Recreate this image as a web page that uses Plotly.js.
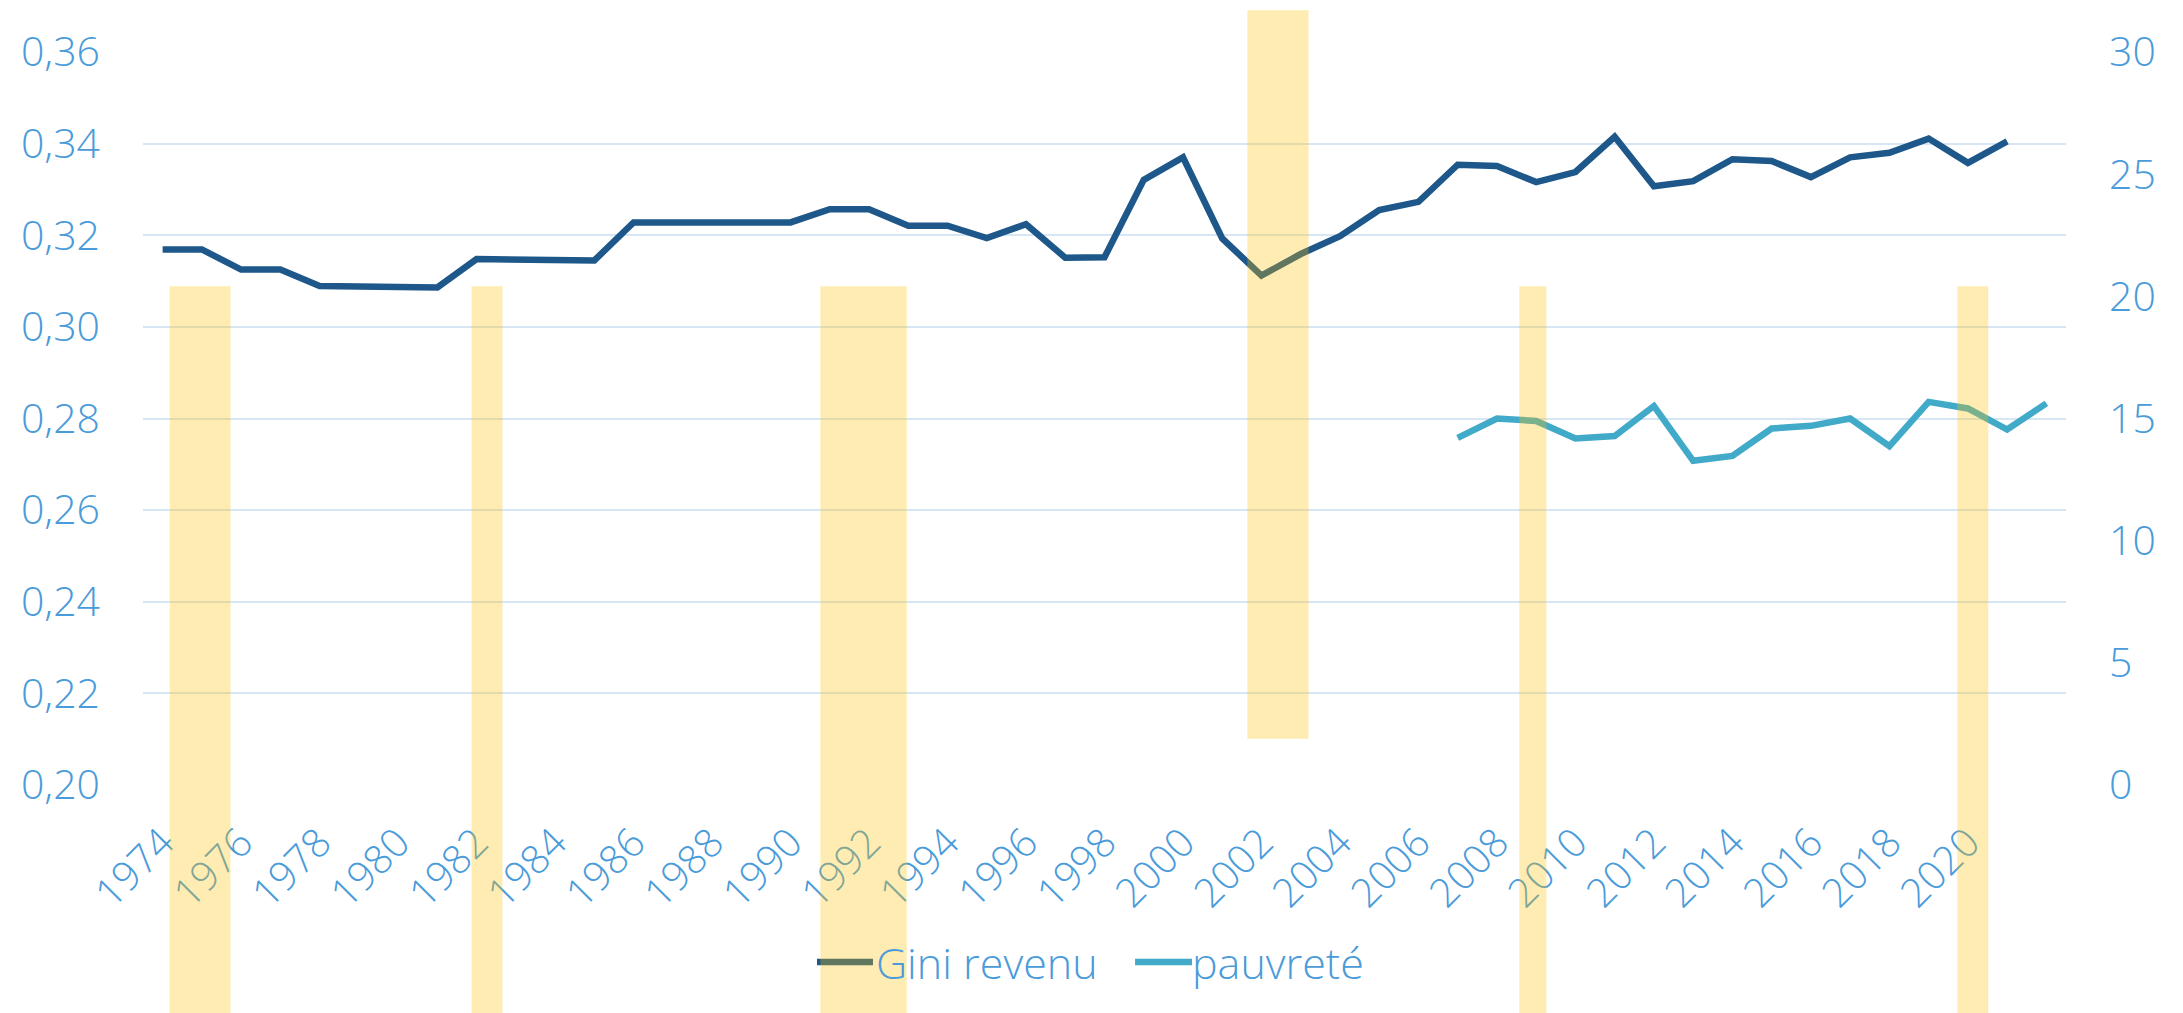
<!DOCTYPE html>
<html>
<head>
<meta charset="utf-8">
<script src="https://cdn.plot.ly/plotly-3.0.1.min.js"></script>
<style>
  html, body { margin: 0; padding: 0; background: #ffffff; }
  #chart { width: 2183px; height: 1013px; }
</style>
</head>
<body>
<div id="chart"></div>
<script>
// ---- Data ----
const giniYears = [1974,1975,1976,1977,1978,1979,1980,1981,1982,1983,1984,1985,1986,1987,1988,1989,1990,1991,1992,1993,1994,1995,1996,1997,1998,1999,2000,2001,2002,2003,2004,2005,2006,2007,2008,2009,2010,2011,2012,2013,2014,2015,2016,2017,2018,2019,2020,2021];
const giniValues = [0.3169,0.3169,0.3125,0.3125,0.3089,0.3089,0.3086,0.3086,0.3148,0.3148,0.3145,0.3145,0.3228,0.3228,0.3229,0.3228,0.3228,0.3257,0.3257,0.3221,0.3221,0.3194,0.3224,0.3151,0.3152,0.3321,0.3370,0.3193,0.3112,0.3159,0.3198,0.3255,0.3273,0.3354,0.3351,0.3316,0.3338,0.3415,0.3307,0.3318,0.3366,0.3362,0.3327,0.3370,0.3380,0.3411,0.3358,0.3405];

const povYears = [2007,2008,2009,2010,2011,2012,2013,2014,2015,2016,2017,2018,2019,2020,2021,2022];
const povValues = [14.21,15.00,14.90,14.18,14.28,15.51,13.27,13.47,14.59,14.70,15.00,13.87,15.68,15.41,14.55,15.62];

// Recession periods (shaded bands)
const recessionStart = [1974.18,1981.87,1990.76,2001.64,2008.57,2019.73];
const recessionEnd   = [1975.73,1982.66,1992.96,2003.20,2009.26,2020.52];

const tickYears  = [1974,1976,1978,1980,1982,1984,1986,1988,1990,1992,1994,1996,1998,2000,2002,2004,2006,2008,2010,2012,2014,2016,2018,2020];
const tickLabels = ["1974","1976","1978","1980","1982","1984","1986","1988","1990","1992","1994","1996","1998","2000","2002","2004","2006","2008","2010","2012","2014","2016","2018","2020"];

const seriesNames = ["Gini revenu", "pauvreté"];

// ---- Styling ----
const labelColor = '#4A9BD9';
const giniColor = '#1E5789';
const povColor = '#41AAC8';
const fontFamily = '"Open Sans", "Noto Sans", sans-serif';
// vertical extent of bands (paper coordinates)
const bandTop = [0.6805,0.6805,0.6805,1.0569,0.6805,0.6805];
const bandBottom = [-0.3109,-0.3109,-0.3109,0.0631,-0.3109,-0.3109];
// custom legend placement (paper coordinates)
const legendY = -0.2415;
const legendLineX = [[0.3505, 0.3796], [0.5159, 0.5455]];
const legendTextX = [0.3802, 0.5445];
const seriesColors = [giniColor, povColor];

const traces = [
  {
    x: giniYears, y: giniValues, name: seriesNames[0], type: 'scatter', mode: 'lines',
    line: { color: giniColor, width: 6.5, shape: 'linear' }, yaxis: 'y', hoverinfo: 'skip'
  },
  {
    x: povYears, y: povValues, name: seriesNames[1], type: 'scatter', mode: 'lines',
    line: { color: povColor, width: 6.5, shape: 'linear' }, yaxis: 'y2', hoverinfo: 'skip'
  }
];

const legendShapes = legendLineX.map((lx, i) => ({
  type: 'line', xref: 'paper', yref: 'paper',
  x0: lx[0], x1: lx[1], y0: legendY, y1: legendY,
  line: { color: seriesColors[i], width: 6.5 }, layer: 'above'
}));

const bandShapes = recessionStart.map((s, i) => ({
  type: 'rect', xref: 'x', yref: 'paper',
  x0: s, x1: recessionEnd[i], y0: bandBottom[i], y1: bandTop[i],
  fillcolor: '#FFC000', opacity: 0.3, line: { width: 0 }, layer: 'above'
}));

const legendAnnotations = seriesNames.map((n, i) => ({
  text: n, xref: 'paper', yref: 'paper', x: legendTextX[i], y: legendY,
  xanchor: 'left', yanchor: 'middle', showarrow: false,
  font: { family: fontFamily, size: 43, color: labelColor, weight: 300 }
}));

const layout = {
  width: 2183, height: 1013,
  margin: { l: 143, r: 117, t: 52, b: 228 },
  paper_bgcolor: '#ffffff', plot_bgcolor: '#ffffff',
  separators: ', ',
  showlegend: false,
  font: { family: fontFamily, color: labelColor },
  xaxis: {
    type: 'linear', range: [1973.5, 2022.5],
    tickmode: 'array', tickvals: tickYears, ticktext: tickLabels,
    tickangle: -45, showgrid: false, zeroline: false, showline: false, ticks: '',
    ticklabelstandoff: 25,
    tickfont: { family: fontFamily, size: 40, color: labelColor, weight: 300 }
  },
  yaxis: {
    range: [0.2, 0.36], tick0: 0.2, dtick: 0.02, tickformat: '.2f',
    showgrid: true, gridcolor: '#D6E6F5', gridwidth: 2,
    zeroline: false, showline: false, ticks: '', ticklabelstandoff: 42,
    tickfont: { family: fontFamily, size: 41, color: labelColor, weight: 300 }
  },
  yaxis2: {
    overlaying: 'y', side: 'right', range: [0, 30], tick0: 0, dtick: 5,
    showgrid: false, zeroline: false, showline: false, ticks: '', ticklabelstandoff: 42,
    tickfont: { family: fontFamily, size: 41, color: labelColor, weight: 300 }
  },
  shapes: legendShapes.concat(bandShapes),
  annotations: legendAnnotations
};

Plotly.newPlot('chart', traces, layout, { staticPlot: true, displayModeBar: false });
</script>
</body>
</html>
